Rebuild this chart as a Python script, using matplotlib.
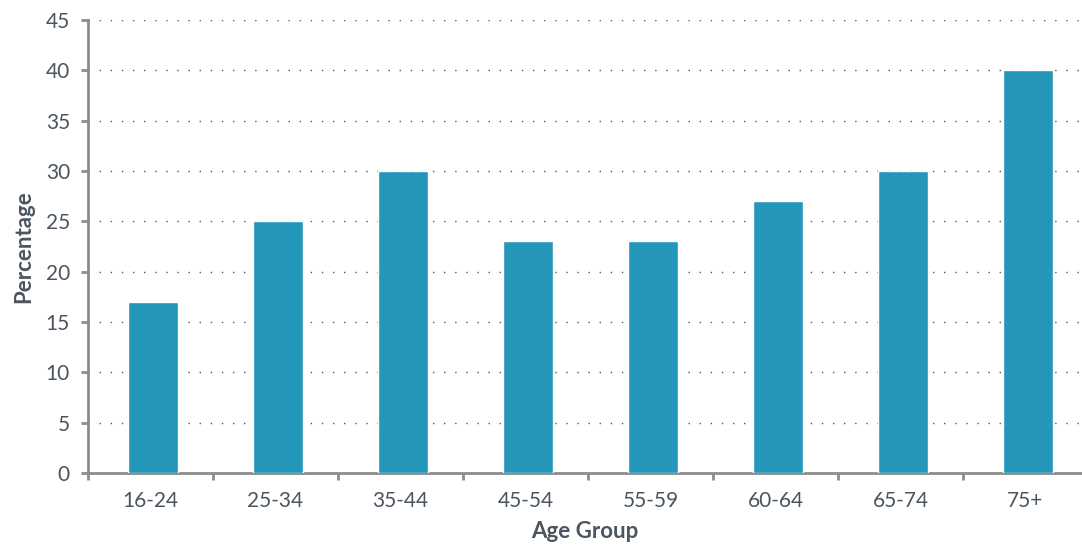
import matplotlib.pyplot as plt
import numpy as np

age_groups = ["16-24", "25-34", "35-44", "45-54", "55-59", "60-64", "65-74", "75+"]
percentages = [17, 25, 30, 23, 23, 27, 30, 40]

plt.rcParams['font.family'] = ['Lato', 'DejaVu Sans']
text_col = '#4a5560'
axis_col = '#8c8c8c'

fig = plt.figure(figsize=(10.82, 5.47), dpi=100)
ax = fig.add_axes([88 / 1082, 74 / 547, 994 / 1082, 453 / 547])

x = np.arange(len(age_groups))
ax.bar(x, percentages, width=0.4, color='#2496b9', edgecolor='white', linewidth=1, zorder=3)

ax.set_xlim(-0.52, -0.52 + 994 / 125)
ax.set_ylim(0, 45)
ax.set_yticks(range(0, 46, 5))
ax.set_xticks(x - 0.02)
ax.set_xticklabels(age_groups)
ax.set_xticks(np.arange(len(age_groups)) - 0.52, minor=True)
ax.tick_params(axis='x', which='major', length=0, pad=13, labelsize=15, labelcolor=text_col)
ax.tick_params(axis='x', which='minor', length=5, width=2, color=axis_col)
ax.tick_params(axis='y', length=5, width=2, color=axis_col, pad=8, labelsize=15, labelcolor=text_col)

ax.grid(axis='y', linestyle=(0, (1, 7)), color='#555555', linewidth=1, zorder=0)

for side in ['top', 'right']:
    ax.spines[side].set_visible(False)
for side in ['left', 'bottom']:
    ax.spines[side].set_color(axis_col)
    ax.spines[side].set_linewidth(2)

ax.set_xlabel("Age Group", fontsize=16, fontweight='bold', color=text_col, labelpad=7)
ax.set_ylabel("Percentage", fontsize=16, fontweight='bold', color=text_col, labelpad=8)

plt.savefig("out.png", dpi=100)
